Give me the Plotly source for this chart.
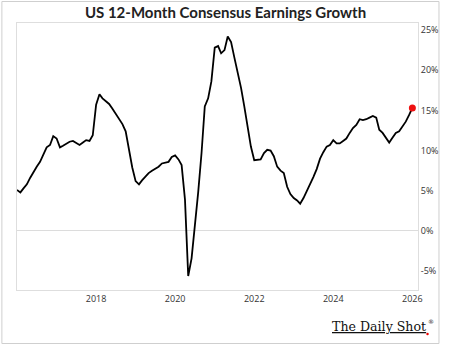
import pandas as pd
import plotly.graph_objects as go

# Monthly values, Jan 2016 .. Jan 2026 (%)
y2016 = [5.1, 4.8, 5.3, 5.8, 6.6, 7.4, 8.0, 8.6, 9.6, 10.4, 10.7, 11.8]
y2017 = [11.5, 10.4, 10.6, 10.9, 11.1, 11.2, 10.9, 10.7, 11.0, 11.3, 11.2, 11.9]
y2018 = [15.7, 17.0, 16.5, 16.1, 15.8, 15.2, 14.6, 13.9, 13.3, 12.4, 10.0, 7.9]
y2019 = [6.2, 5.8, 6.3, 6.8, 7.2, 7.5, 7.7, 8.0, 8.4, 8.5, 8.6, 9.2]
y2020 = [9.4, 8.9, 8.2, 3.9, -5.6, -3.4, 0.5, 4.8, 9.7, 15.5, 16.5, 18.6]
y2021 = [22.8, 23.0, 22.1, 22.5, 24.2, 23.5, 21.6, 19.7, 17.8, 15.5, 12.8, 10.5]
y2022 = [8.8, 8.85, 8.9, 9.7, 10.1, 10.0, 9.3, 8.0, 7.5, 7.2, 5.5, 4.6]
y2023 = [4.1, 3.8, 3.4, 4.1, 4.9, 5.9, 6.7, 7.7, 9.0, 9.8, 10.5, 10.7]
y2024 = [11.3, 10.9, 10.9, 11.2, 11.5, 12.2, 12.8, 13.2, 13.9, 13.8, 13.9, 14.1]
y2025 = [14.3, 14.1, 12.6, 12.2, 11.6, 11.0, 11.6, 12.2, 12.4, 13.0, 13.6, 14.4]
y2026 = [15.3]

values = y2016 + y2017 + y2018 + y2019 + y2020 + y2021 + y2022 + y2023 + y2024 + y2025 + y2026
dates = pd.date_range("2016-01-01", periods=len(values), freq="MS")

tick_years = ["2018", "2020", "2022", "2024", "2026"]
y_ticks = [-5, 0, 5, 10, 15, 20, 25]
y_labels = [f"{v}%" for v in y_ticks]

fig = go.Figure()
fig.add_trace(go.Scatter(x=dates, y=values, mode="lines",
                         line=dict(color="black", width=1.8), hoverinfo="skip"))
fig.add_trace(go.Scatter(x=[dates[-1]], y=[values[-1]], mode="markers",
                         marker=dict(color="#ee1111", size=7), cliponaxis=False, hoverinfo="skip"))

W, H = 451, 345
L, R, T, B = 17, 23, 23, 55
pw, ph = W - L - R, H - T - B


def px(xp):
    return (xp - L) / pw


def py(yp):
    return (T + ph - yp) / ph


fig.update_layout(
    width=W, height=H,
    margin=dict(l=L, r=R, t=T, b=B),
    paper_bgcolor="white", plot_bgcolor="white",
    showlegend=False,
    title=dict(text="US 12-Month Consensus Earnings Growth", x=0.5, xanchor="center",
               y=1 - 13 / H, yanchor="middle", yref="container",
               font=dict(family="Lato", size=15, color="#222", weight="bold")),
    xaxis=dict(range=["2016-01-01", "2026-02-22"], type="date",
               tickvals=[pd.Timestamp(f"{y}-01-01") for y in tick_years], ticktext=tick_years,
               showgrid=False, zeroline=False, showline=True, mirror=True,
               linecolor="#dedede", linewidth=1, ticks="",
               tickfont=dict(family="Open Sans", size=9, color="#333")),
    yaxis=dict(range=[-7.34, 25.87], side="right", tickvals=y_ticks, ticktext=y_labels,
               showgrid=False, zeroline=True, zerolinecolor="#dcdcdc", zerolinewidth=1,
               showline=True, mirror=True, linecolor="#dedede", linewidth=1, ticks="",
               tickfont=dict(family="Open Sans", size=9, color="#333")),
)

# outer image border
fig.add_shape(type="rect", xref="paper", yref="paper",
              x0=px(1.5), x1=px(W - 1.5), y0=py(H - 1.5), y1=py(1.5),
              line=dict(color="#cfcfcf", width=1), layer="below")

# logo
fig.add_annotation(xref="paper", yref="paper",
                   x=px(438), y=py(326.5), xanchor="right", yanchor="middle",
                   text="<u>The Daily Shot</u>", showarrow=False,
                   font=dict(family="DejaVu Serif", size=12.6, color="#111"))
fig.add_annotation(xref="paper", yref="paper",
                   x=px(436), y=py(321), xanchor="left", yanchor="middle",
                   text="®", showarrow=False,
                   font=dict(family="DejaVu Serif", size=6, color="#111"))
fig.add_shape(type="circle", xref="paper", yref="paper",
              x0=px(436.5), x1=px(439), y0=py(335.3), y1=py(332.8),
              fillcolor="#e00", line=dict(width=0))

fig.write_html("out.html")
